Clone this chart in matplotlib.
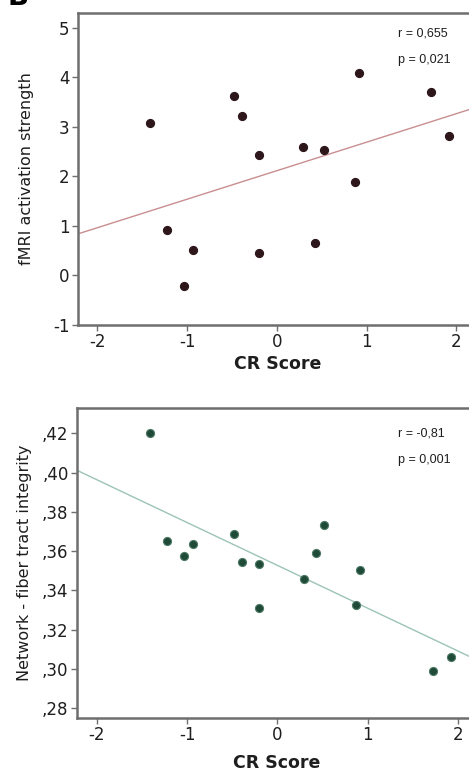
import numpy as np
import matplotlib
matplotlib.use("Agg")
import matplotlib.pyplot as plt

# CR score, same subjects in both panels
cr_score = [-1.41, -1.22, -0.93, -1.03, -0.48, -0.39, -0.20, -0.20,
            0.29, 0.52, 0.43, 0.87, 0.92, 1.72, 1.92]
fmri_strength = [3.08, 0.91, 0.52, -0.22, 3.63, 3.23, 2.44, 0.45,
                 2.60, 2.54, 0.65, 1.89, 4.08, 3.71, 2.81]
fiber_integrity = [0.420, 0.3649, 0.3638, 0.3575, 0.3687, 0.3546, 0.3534, 0.3310,
                   0.3456, 0.3733, 0.3588, 0.3325, 0.3503, 0.2988, 0.3058]

# fitted lines as printed in the figure (slope, intercept)
fmri_fit = (0.576, 2.116)
fiber_fit = (-0.02184, 0.3527)

x_ticks = [-2, -1, 0, 1, 2]
fmri_ticks = [-1, 0, 1, 2, 3, 4, 5]
fiber_ticks = [0.28, 0.30, 0.32, 0.34, 0.36, 0.38, 0.40, 0.42]
fiber_ticklabels = [",28", ",30", ",32", ",34", ",36", ",38", ",40", ",42"]

W, H = 469, 771
fig = plt.figure(figsize=(W / 100, H / 100), dpi=100)
fig.patch.set_facecolor("white")

frame_col = "#6e6e6e"
txt_col = "#1e1e1e"


def panel(ax, y, fit, dot_col, edge_col, line_col, xlim, ylim, yticks, yticklabels, ylabel):
    ax.set_xlim(*xlim)
    ax.set_ylim(*ylim)
    xs = np.array([-2.5, 2.5])
    ax.plot(xs, fit[0] * xs + fit[1], color=line_col, lw=1.0, zorder=2)
    ax.scatter(cr_score, y, s=34, color=dot_col, edgecolors=edge_col, linewidths=0.8, zorder=3)
    for s in ax.spines.values():
        s.set_color(frame_col)
        s.set_linewidth(1.8)
    ax.tick_params(direction="out", length=4, width=1, color=frame_col,
                   labelsize=12, labelcolor=txt_col, pad=2)
    ax.set_xticks(x_ticks)
    ax.set_xticklabels([str(v) for v in x_ticks])
    ax.set_yticks(yticks)
    ax.set_yticklabels(yticklabels)
    ax.set_xlabel("CR Score", fontsize=12.5, fontweight="bold", color=txt_col)
    ax.set_ylabel(ylabel, fontsize=11.5, color=txt_col)


# axes extend past the right edge of the image (cropped in the reference)
ax1 = fig.add_axes([78 / W, 1 - 325 / H, 400 / W, (325 - 13) / H])
panel(ax1, fmri_strength, fmri_fit, "#2e171a", "#2e171a", "#c98e90",
      (-2.215, 2.24), (-1, 5.3), fmri_ticks, [str(v) for v in fmri_ticks],
      "fMRI activation strength")
ax1.yaxis.set_label_coords(-44 / 400, 0.5)
ax1.xaxis.set_label_coords(0.5, -30 / 312)

ax2 = fig.add_axes([77 / W, 1 - 718 / H, 400 / W, (718 - 408) / H])
panel(ax2, fiber_integrity, fiber_fit, "#1f4a38", "#4f7a66", "#9cc4b4",
      (-2.218, 2.21), (0.2749, 0.4329), fiber_ticks, fiber_ticklabels,
      "Network - fiber tract integrity")
ax2.yaxis.set_label_coords(-45 / 400, 0.5)
ax2.xaxis.set_label_coords(0.5, -36 / 310)

stats = [("r = 0,655", 33), ("p = 0,021", 60), ("r = -0,81", 433), ("p = 0,001", 460)]
for s, yy in stats:
    fig.text(398 / W, 1 - yy / H, s, fontsize=9, family="Liberation Sans",
             color=txt_col, ha="left", va="center")

fig.text(8 / W, 1 - 5 / H, "B", fontsize=20, fontweight="bold", ha="left", va="baseline")

fig.savefig("out.png", dpi=100)
